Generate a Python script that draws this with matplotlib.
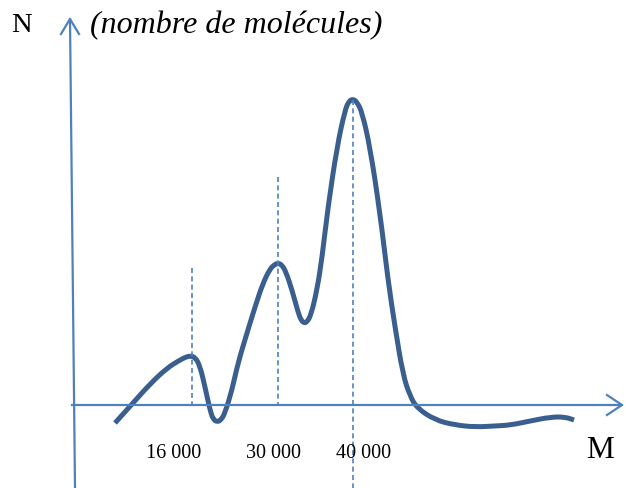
import matplotlib.pyplot as plt
from matplotlib.path import Path
from matplotlib.patches import PathPatch

plt.rcParams['font.family'] = ['Liberation Serif', 'DejaVu Serif']

# ── data (schematic diagram, picture coordinates) ──
curve_x = [115, 133, 150, 167, 180, 186, 190, 195, 200, 205, 210, 213, 217, 221,
           225, 232, 238, 247, 255, 263, 270, 274, 278, 282, 286, 292, 298, 301,
           304, 307, 311, 317, 322, 328, 337, 345, 349, 353, 357, 362, 370, 380,
           388, 395, 403, 410, 417, 435, 455, 475, 495, 511, 530, 551, 565, 574]
curve_y = [423, 403, 384, 368, 360, 357, 356, 357, 366, 387, 410, 419, 422, 420,
           413, 390, 363, 333, 307, 283, 269, 265, 263, 265, 272, 290, 312, 320,
           323, 322, 315, 290, 258, 207, 147, 110, 101, 99, 102, 112, 147, 213,
           280, 327, 375, 396, 408, 420, 425, 427, 426, 425, 421, 417, 417, 420]

tick_pos = [192, 278, 353]
tick_top = [268, 177, 100]
tick_bottom = [405, 405, 488]
tick_labels = ['16 000', '30 000', '40 000']
label_x = [174, 274, 364]

axis_blue = '#4f81bd'
curve_blue = '#3a5f8f'

fig = plt.figure(figsize=(6.26, 4.88), dpi=100)
ax = fig.add_axes([0, 0, 1, 1])
ax.set_xlim(0, 626)
ax.set_ylim(488, 0)
ax.axis('off')

# axes with open arrowheads
ax.plot([75, 70], [488, 19], color=axis_blue, lw=1.6)
ax.plot([61, 70, 79], [34, 19, 34], color=axis_blue, lw=1.6)
ax.plot([72, 622], [405, 405], color=axis_blue, lw=1.6)
ax.plot([607, 622, 607], [395, 405, 415], color=axis_blue, lw=1.6)

# dashed guide lines
for xp, yt, yb in zip(tick_pos, tick_top, tick_bottom):
    ax.plot([xp, xp], [yt, yb], color=axis_blue, lw=1.2, ls=(0, (3, 2)))

# distribution curve, smoothed with quadratic bezier segments
pts = list(zip(curve_x, curve_y))
verts = [pts[0]]
codes = [Path.MOVETO]
for i in range(1, len(pts) - 1):
    mid = ((pts[i][0] + pts[i + 1][0]) / 2, (pts[i][1] + pts[i + 1][1]) / 2)
    verts += [pts[i], mid]
    codes += [Path.CURVE3, Path.CURVE3]
verts.append(pts[-1])
codes.append(Path.LINETO)
ax.add_patch(PathPatch(Path(verts, codes), facecolor='none',
                       edgecolor=curve_blue, lw=3.6, capstyle='butt',
                       joinstyle='round'))

for xl, t in zip(label_x, tick_labels):
    ax.text(xl, 458, t, ha='center', va='baseline', fontsize=14.5)

ax.text(11, 32, 'N', ha='left', va='baseline', fontsize=20.5)
ax.text(90, 33, '(nombre de molécules)', ha='left', va='baseline',
        fontsize=23, style='italic')
ax.text(586, 458, 'M', ha='left', va='baseline', fontsize=22.5)

fig.savefig('out.png', dpi=100, facecolor='white')
plt.close(fig)
